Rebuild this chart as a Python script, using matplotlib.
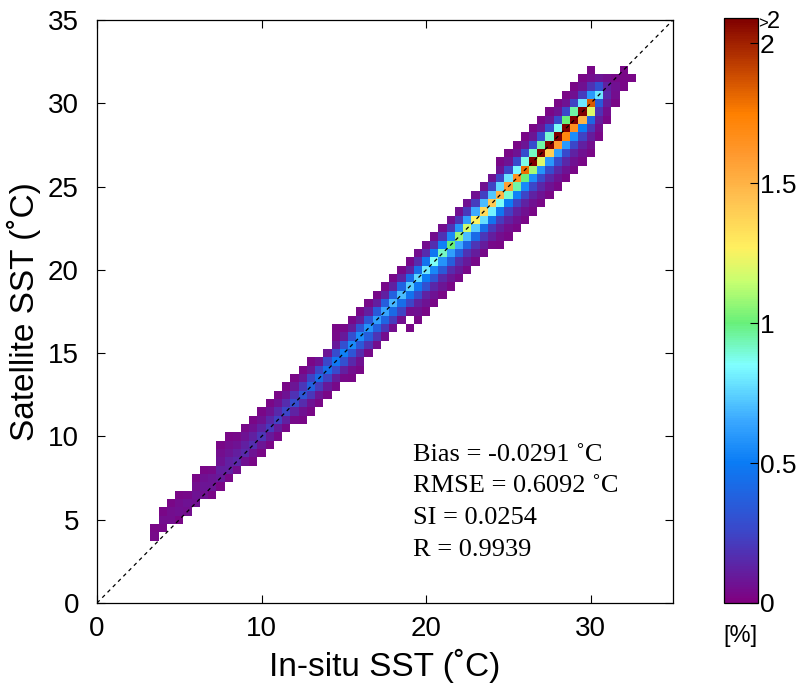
import numpy as np
import matplotlib
matplotlib.use("Agg")
import matplotlib.pyplot as plt
from matplotlib.colors import LinearSegmentedColormap

# ---------------- data (percent of match-ups per 0.5 x 0.5 degC cell) ----------------
# x centre of each column, y centre of the lowest filled cell, cell values upward
col_x = [3.5, 4.0, 4.5, 5.0, 5.5, 6.0, 6.5, 7.0, 7.5, 8.0, 8.5, 9.0, 9.5, 10.0,
         10.5, 11.0, 11.5, 12.0, 12.5, 13.0, 13.5, 14.0, 14.5, 15.0, 15.5, 16.0,
         16.5, 17.0, 17.5, 18.0, 18.5, 19.0, 19.5, 20.0, 20.5, 21.0, 21.5, 22.0,
         22.5, 23.0, 23.5, 24.0, 24.5, 25.0, 25.5, 26.0, 26.5, 27.0, 27.5, 28.0,
         28.5, 29.0, 29.5, 30.0, 30.5, 31.0, 31.5, 32.0, 32.5]
col_ybottom = [4.0, 4.5, 5.0, 5.0, 5.5, 6.0, 6.5, 6.5, 7.0, 7.5, 8.0, 8.5, 8.5, 9.0,
               9.5, 10.0, 10.5, 11.0, 11.0, 11.5, 12.0, 12.5, 13.0, 13.5, 13.5, 14.0,
               15.0, 15.5, 16.0, 16.5, 17.0, 17.5, 17.0, 17.5, 18.0, 18.5, 19.0, 19.5,
               20.0, 20.5, 21.0, 21.5, 21.5, 22.0, 22.5, 23.0, 23.5, 24.0, 24.5, 25.0,
               25.5, 26.0, 26.5, 27.0, 28.0, 29.0, 30.0, 31.0, 31.5]
col_values = [
    [0.04, 0.03],
    [0.04, 0.05, 0.03],
    [0.05, 0.05, 0.03],
    [0.03, 0.06, 0.05, 0.03],
    [0.05, 0.07, 0.04],
    [0.06, 0.07, 0.05, 0.03],
    [0.06, 0.08, 0.06, 0.03],
    [0.03, 0.08, 0.08, 0.04],
    [0.03, 0.09, 0.11, 0.07, 0.05, 0.03],
    [0.04, 0.12, 0.12, 0.08, 0.05, 0.03],
    [0.05, 0.14, 0.11, 0.07, 0.04],
    [0.06, 0.15, 0.12, 0.07, 0.04],
    [0.03, 0.07, 0.17, 0.12, 0.06, 0.03],
    [0.03, 0.08, 0.19, 0.13, 0.06, 0.03],
    [0.03, 0.09, 0.21, 0.14, 0.07, 0.03],
    [0.04, 0.10, 0.23, 0.15, 0.07, 0.03],
    [0.04, 0.12, 0.25, 0.16, 0.07, 0.03],
    [0.04, 0.13, 0.28, 0.18, 0.08, 0.03],
    [0.03, 0.06, 0.16, 0.32, 0.20, 0.08, 0.03],
    [0.03, 0.07, 0.20, 0.38, 0.24, 0.08, 0.03],
    [0.03, 0.08, 0.22, 0.42, 0.25, 0.07],
    [0.03, 0.09, 0.24, 0.44, 0.26, 0.08],
    [0.04, 0.10, 0.27, 0.48, 0.28, 0.09, 0.04, 0.03],
    [0.04, 0.12, 0.30, 0.52, 0.30, 0.09, 0.04],
    [0.03, 0.05, 0.15, 0.32, 0.55, 0.30, 0.10, 0.04],
    [0.03, 0.06, 0.16, 0.34, 0.56, 0.32, 0.10, 0.04],
    [0.04, 0.18, 0.36, 0.58, 0.33, 0.11, 0.04],
    [0.05, 0.19, 0.38, 0.62, 0.35, 0.11, 0.04],
    [0.05, 0.20, 0.40, 0.64, 0.36, 0.12, 0.04],
    [0.05, 0.22, 0.42, 0.68, 0.38, 0.12, 0.04],
    [0.05, 0.24, 0.44, 0.70, 0.40, 0.13, 0.04],
    [0.05, 0.25, 0.46, 0.74, 0.42, 0.13, 0.04],
    [0.03, 0.06, 0.12, 0.28, 0.48, 0.76, 0.44, 0.16, 0.05],
    [0.03, 0.07, 0.13, 0.30, 0.50, 0.80, 0.46, 0.16, 0.05],
    [0.03, 0.07, 0.14, 0.32, 0.54, 0.86, 0.48, 0.17, 0.05],
    [0.03, 0.08, 0.15, 0.34, 0.58, 0.92, 0.52, 0.18, 0.05],
    [0.03, 0.08, 0.16, 0.36, 0.62, 1.00, 0.55, 0.19, 0.06],
    [0.04, 0.09, 0.17, 0.38, 0.66, 1.08, 0.58, 0.20, 0.06],
    [0.04, 0.09, 0.18, 0.40, 0.70, 1.16, 0.62, 0.21, 0.06],
    [0.04, 0.10, 0.19, 0.42, 0.74, 1.26, 0.66, 0.22, 0.06],
    [0.04, 0.10, 0.20, 0.44, 0.78, 1.35, 0.70, 0.23, 0.06],
    [0.04, 0.11, 0.21, 0.46, 0.82, 1.42, 0.72, 0.24, 0.07],
    [0.03, 0.05, 0.11, 0.22, 0.48, 0.86, 1.50, 0.76, 0.25, 0.07, 0.03],
    [0.03, 0.05, 0.12, 0.23, 0.50, 0.90, 1.58, 0.80, 0.26, 0.07, 0.03],
    [0.03, 0.06, 0.12, 0.24, 0.52, 0.95, 1.66, 0.84, 0.27, 0.07, 0.03],
    [0.03, 0.06, 0.13, 0.25, 0.54, 1.00, 1.80, 0.88, 0.28, 0.08, 0.03],
    [0.03, 0.06, 0.13, 0.26, 0.56, 1.10, 2.20, 0.92, 0.28, 0.08, 0.03],
    [0.03, 0.07, 0.14, 0.27, 0.58, 1.20, 2.25, 0.95, 0.29, 0.08, 0.03],
    [0.03, 0.07, 0.14, 0.28, 0.60, 1.40, 2.20, 0.90, 0.28, 0.08, 0.03],
    [0.03, 0.07, 0.14, 0.28, 0.62, 1.60, 2.30, 0.86, 0.27, 0.07, 0.03],
    [0.03, 0.07, 0.14, 0.27, 0.60, 1.70, 2.30, 1.00, 0.26, 0.07, 0.03],
    [0.03, 0.06, 0.13, 0.26, 0.56, 1.65, 2.40, 0.95, 0.24, 0.06, 0.03],
    [0.03, 0.06, 0.12, 0.24, 0.50, 1.50, 2.30, 0.80, 0.22, 0.06, 0.03],
    [0.03, 0.05, 0.10, 0.20, 0.40, 1.20, 1.85, 0.60, 0.18, 0.05, 0.03],
    [0.03, 0.05, 0.10, 0.18, 0.35, 0.80, 0.30, 0.08],
    [0.03, 0.05, 0.10, 0.15, 0.12, 0.05],
    [0.03, 0.05, 0.06, 0.04],
    [0.03, 0.03, 0.03],
    [0.03],
]
outlier_x = [19.0]
outlier_y = [16.5]
outlier_v = [0.03]

stats_lines = ["Bias = -0.0291 \u02daC", "RMSE = 0.6092 \u02daC",
               "SI = 0.0254", "R = 0.9939"]
x_ticks = [0, 10, 20, 30]
y_ticks = [0, 5, 10, 15, 20, 25, 30, 35]
cbar_ticks = [0, 0.5, 1, 1.5, 2]
cbar_max = 2.09
bin_w = 0.5

# ---------------- grid ----------------
centers = np.arange(0, 35.0 + bin_w / 2, bin_w)
edges = np.append(centers - bin_w / 2, centers[-1] + bin_w / 2)
Z = np.full((len(centers), len(centers)), np.nan)
for x, yb, vals in zip(col_x, col_ybottom, col_values):
    i = int(round(x / bin_w))
    j0 = int(round(yb / bin_w))
    for n, v in enumerate(vals):
        Z[j0 + n, i] = v
for x, y, v in zip(outlier_x, outlier_y, outlier_v):
    Z[int(round(y / bin_w)), int(round(x / bin_w))] = v

nodes = [(0.00, '#800080'), (0.25, '#3c46c8'), (0.50, '#0a7cf5'),
         (0.65, '#3aa8ff'), (0.85, '#80ffff'), (1.00, '#68f07a'),
         (1.15, '#c8ff70'), (1.27, '#fff060'), (1.45, '#ffc050'),
         (1.60, '#ff9a30'), (1.75, '#ff8000'), (1.92, '#c04000'),
         (2.09, '#800000')]
cmap = LinearSegmentedColormap.from_list(
    'sst', [(v / cbar_max, c) for v, c in nodes])

# ---------------- figure ----------------
W, H = 806, 696
fig = plt.figure(figsize=(W / 100, H / 100), dpi=100)
ax = fig.add_axes([97 / W, 1 - 603 / H, 576 / W, 583 / H])
mesh = ax.pcolormesh(edges, edges, np.ma.masked_invalid(Z), cmap=cmap,
                     vmin=0, vmax=cbar_max, shading='flat',
                     edgecolors='none', antialiased=False)
ax.plot([0, 35], [0, 35], linestyle=(0, (3, 3)), color='black', lw=0.9)
ax.set_xlim(0, 35)
ax.set_ylim(0, 35)
ax.set_xticks(x_ticks)
ax.set_yticks(y_ticks)
ax.tick_params(direction='in', length=6, width=0.8, top=True, right=True,
               labelsize=20)
ax.tick_params(axis='x', pad=9)
ax.tick_params(axis='y', pad=13)
for lab in ax.get_xticklabels() + ax.get_yticklabels():
    lab.set_family('Liberation Sans')
ax.set_xlabel('In-situ SST (\u02daC)', fontsize=24, family='Liberation Sans',
              labelpad=5)
ax.set_ylabel('Satellite SST (\u02daC)', fontsize=24, family='Liberation Sans',
              labelpad=5)
for s in ax.spines.values():
    s.set_linewidth(0.9)

for n, line in enumerate(stats_lines):
    ax.text(19.2, 8.9 - n * 1.9, line, fontsize=19, family='Liberation Serif',
            va='center', ha='left')

# colorbar
cax = fig.add_axes([724 / W, 1 - 603 / H, 34 / W, 585 / H])
cb = fig.colorbar(mesh, cax=cax, ticks=cbar_ticks)
cb.outline.set_linewidth(0.9)
cax.tick_params(direction='in', length=6, width=0.8, labelsize=19, pad=1.5)
cax.set_yticklabels(['0', '0.5', '1', '1.5', '2'], family='Liberation Sans')
cax.text(1.0, 2.07, '>', transform=cax.get_yaxis_transform(), fontsize=12,
         va='center', ha='left', family='Liberation Sans')
cax.text(1.26, 2.075, '2', transform=cax.get_yaxis_transform(), fontsize=17,
         va='center', ha='left', family='Liberation Sans')
fig.text(740 / W, 1 - 636 / H, '[%]', fontsize=17, ha='center', va='center',
         family='Liberation Sans')

fig.savefig('out.png', dpi=100)
